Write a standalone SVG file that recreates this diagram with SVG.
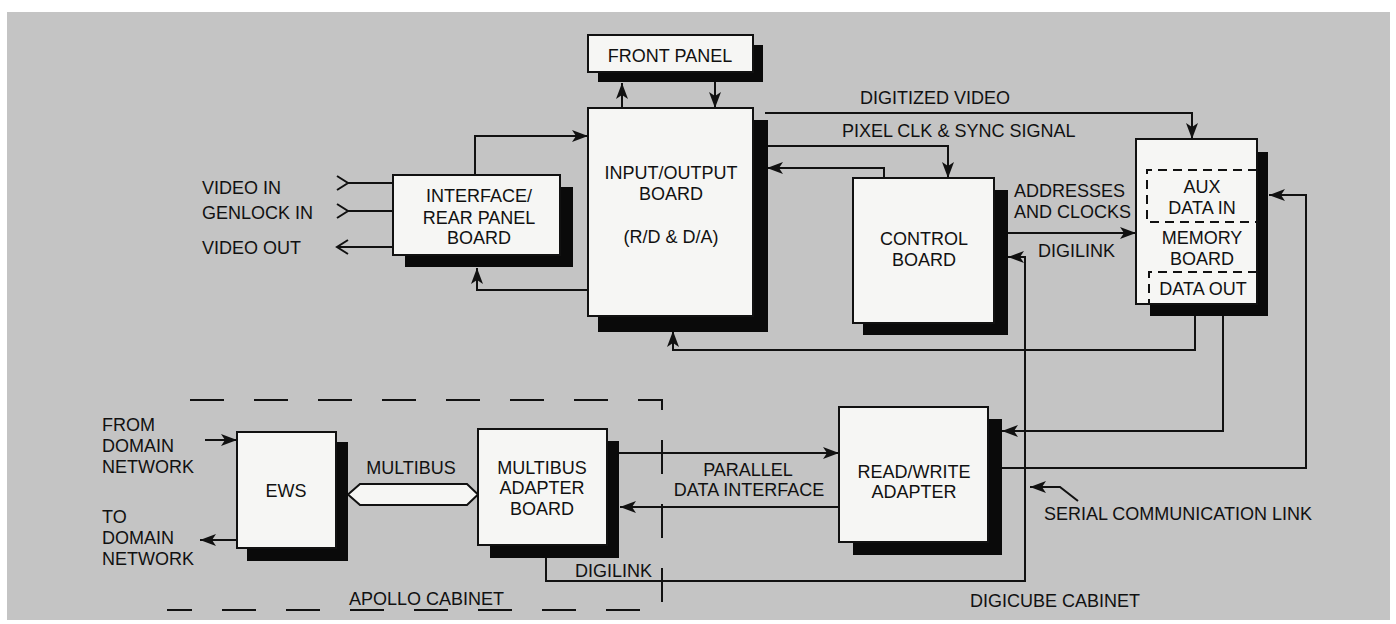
<svg xmlns="http://www.w3.org/2000/svg" width="1396" height="624" viewBox="0 0 1396 624">
<defs>
<marker id="ah" viewBox="0 0 16 12" refX="16" refY="6" markerWidth="16" markerHeight="12" orient="auto" markerUnits="userSpaceOnUse"><path d="M0,0 L16,6 L0,12 L4,6 z" fill="#111"/></marker>
<style>
.bg{fill:#c4c4c4}
.box{fill:#f6f6f4;stroke:#111;stroke-width:2}
.sh{fill:#0a0a0a}
.ln{fill:none;stroke:#111;stroke-width:2}
.ar{fill:none;stroke:#111;stroke-width:2;marker-end:url(#ah)}
.dash{fill:none;stroke:#111;stroke-width:2;stroke-dasharray:34 30}
.idash{fill:none;stroke:#111;stroke-width:2;stroke-dasharray:9 6}
text{font-family:"Liberation Sans",Arial,Helvetica,sans-serif;font-size:18px;fill:#111}
.c{text-anchor:middle}
</style>
</defs>
<rect x="0" y="0" width="1396" height="624" fill="#ffffff"/>
<rect class="bg" x="7" y="12" width="1383" height="608"/>

<g id="apollo-cabinet">
<path class="dash" d="M190,400 H662 V610 H167"/>
<text x="349" y="604.5">APOLLO CABINET</text>
</g>

<g id="connectors">
<path class="ar" d="M475,175 V136 H588"/>
<path class="ar" d="M588,290 H477 V268"/>
<path class="ar" d="M622,108 V83"/>
<path class="ar" d="M715,82 V108"/>
<path class="ar" d="M765,113 H1192 V139"/>
<path class="ar" d="M766,146 H948 V178"/>
<path class="ar" d="M884,178 V168 H767"/>
<path class="ar" d="M1008,233 H1136"/>
<path class="ar" d="M546,558 V581 H1025 V257 H1008"/>
<path class="ar" d="M1195,316 V350 H673 V331"/>
<path class="ar" d="M1223,316 V431 H1002"/>
<path class="ar" d="M1002,468 H1306 V195 H1269"/>
<path class="ar" d="M619,453 H839"/>
<path class="ar" d="M839,507 H620"/>
<path class="ar" d="M205,440 H237"/>
<path class="ar" d="M237,540 H200"/>
<path class="ln" d="M348,183 H393 M337,176 L348,183 L337,190"/>
<path class="ln" d="M348,211 H393 M337,204 L348,211 L337,218"/>
<path class="ln" d="M393,247 H337 M348,240 L337,247 L348,254"/>
<path class="ar" d="M1078,501 L1060,487 H1030"/>
<polygon class="box" points="348,494.5 360,484 467,484 478,494.5 467,505 360,505"/>
</g>

<g id="labels">
<text x="202" y="194">VIDEO IN</text>
<text x="202" y="219">GENLOCK IN</text>
<text x="202" y="254">VIDEO OUT</text>
<text x="860" y="103.5">DIGITIZED VIDEO</text>
<text x="842" y="137">PIXEL CLK &amp; SYNC SIGNAL</text>
<text x="1014" y="197">ADDRESSES</text>
<text x="1014" y="218">AND CLOCKS</text>
<text x="1038" y="257">DIGILINK</text>
<text x="102" y="430.5">FROM</text>
<text x="102" y="451.5">DOMAIN</text>
<text x="102" y="472.5">NETWORK</text>
<text x="102" y="522.5">TO</text>
<text x="102" y="543.5">DOMAIN</text>
<text x="102" y="564.5">NETWORK</text>
<text class="c" x="411" y="473.5">MULTIBUS</text>
<text class="c" x="748" y="475.5">PARALLEL</text>
<text class="c" x="749" y="495.5">DATA INTERFACE</text>
<text x="575" y="576.5">DIGILINK</text>
<text x="1044" y="519.5">SERIAL COMMUNICATION LINK</text>
<text x="970" y="606.5">DIGICUBE CABINET</text>
</g>

<g id="front-panel">
<rect class="sh" x="598" y="45" width="165" height="37"/>
<rect class="box" x="588" y="35" width="165" height="37"/>
<text class="c" x="670" y="61.5">FRONT PANEL</text>
</g>

<g id="io-board">
<rect class="sh" x="598" y="120" width="170" height="212"/>
<rect class="box" x="588" y="108" width="165" height="208"/>
<text class="c" x="671" y="178.5">INPUT/OUTPUT</text>
<text class="c" x="671" y="199.5">BOARD</text>
<text class="c" x="671" y="242.5">(R/D &amp; D/A)</text>
</g>

<g id="interface-board">
<rect class="sh" x="405" y="187" width="168" height="80"/>
<rect class="box" x="393" y="175" width="167" height="80"/>
<text class="c" x="479" y="201.5">INTERFACE/</text>
<text class="c" x="479" y="223.5">REAR PANEL</text>
<text class="c" x="479" y="243.5">BOARD</text>
</g>

<g id="control-board">
<rect class="sh" x="863" y="190" width="145" height="145"/>
<rect class="box" x="853" y="178" width="141" height="145"/>
<text class="c" x="924" y="244.5">CONTROL</text>
<text class="c" x="924" y="265.5">BOARD</text>
</g>

<g id="memory-board">
<rect class="sh" x="1150" y="152" width="118" height="164"/>
<rect class="box" x="1136" y="139" width="121" height="165"/>
<path class="idash" d="M1257,170 H1147 V222 H1257"/>
<path class="idash" d="M1257,272 H1149 V304"/>
<text class="c" x="1202" y="192.5">AUX</text>
<text class="c" x="1202" y="213.5">DATA IN</text>
<text class="c" x="1202" y="243.5">MEMORY</text>
<text class="c" x="1202" y="264.5">BOARD</text>
<text class="c" x="1203" y="294.5">DATA OUT</text>
</g>

<g id="ews">
<rect class="sh" x="247" y="442" width="101" height="119"/>
<rect class="box" x="237" y="432" width="99" height="116"/>
<text class="c" x="286" y="496.5">EWS</text>
</g>

<g id="multibus-adapter">
<rect class="sh" x="490" y="441" width="129" height="117"/>
<rect class="box" x="478" y="429" width="129" height="116"/>
<text class="c" x="542" y="473.5">MULTIBUS</text>
<text class="c" x="542" y="493.5">ADAPTER</text>
<text class="c" x="542" y="514.5">BOARD</text>
</g>

<g id="read-write-adapter">
<rect class="sh" x="853" y="419" width="149" height="136"/>
<rect class="box" x="839" y="407" width="149" height="135"/>
<text class="c" x="914" y="477.5">READ/WRITE</text>
<text class="c" x="914" y="497.5">ADAPTER</text>
</g>
</svg>
